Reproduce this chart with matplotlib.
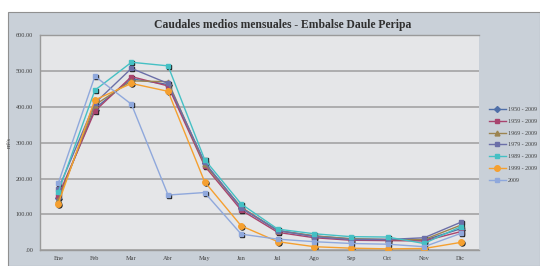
import matplotlib
matplotlib.use("Agg")
import matplotlib.pyplot as plt
from matplotlib.patches import Rectangle
from matplotlib.transforms import offset_copy

months = ["Ene", "Feb", "Mar", "Abr", "May", "Jun", "Jul", "Ago", "Sep", "Oct", "Nov", "Dic"]

s1950 = [145, 395, 478, 462, 243, 118, 55, 40, 32, 30, 28, 60]
s1959 = [152, 388, 484, 458, 235, 112, 50, 35, 28, 27, 26, 52]
s1969 = [140, 405, 472, 470, 240, 120, 55, 40, 32, 30, 30, 70]
s1979 = [170, 410, 507, 465, 245, 118, 55, 38, 30, 30, 35, 78]
s1989 = [162, 446, 524, 514, 253, 129, 59, 46, 38, 37, 19, 66]
s1999 = [130, 419, 465, 443, 191, 68, 24, 10, 6, 4, 5, 22]
s2009 = [187, 485, 407, 154, 161, 45, 31, 24, 19, 17, 10, 47]

labels = ["1950 - 2009", "1959 - 2009", "1969 - 2009", "1979 - 2009",
          "1989 - 2009", "1999 - 2009", "2009"]
series = [s1950, s1959, s1969, s1979, s1989, s1999, s2009]
colors = ["#4f6fa8", "#a8446e", "#9c8450", "#6b6fa8", "#45c0c4", "#f5a030", "#8fa8dc"]
markers = ["D", "s", "^", "s", "s", "o", "s"]
msizes = [3, 3.5, 3.5, 3.5, 3.5, 4, 3]

plt.rcParams['font.family'] = ['Liberation Serif', 'DejaVu Serif']

fig = plt.figure(figsize=(5.4, 2.66), dpi=100)
fig.patch.set_facecolor("white")
# outer chart area
bg = Rectangle((8/540, 0), 1 - 8/540, (266-12)/266,
               transform=fig.transFigure, facecolor="#c9d0d8",
               edgecolor="#909090", linewidth=0.8, zorder=-5)
fig.patches.append(bg)

ax = fig.add_axes([40/540, (266-250.3)/266, 439/540, (250.3-35)/266])
ax.set_zorder(1)
ax.set_facecolor("#e5e6e8")

x = list(range(len(months)))
shadow_tr = offset_copy(ax.transData, fig=fig, x=0.7, y=-0.7, units='points')
for s, lab, c, m, ms in zip(series, labels, colors, markers, msizes):
    ax.plot(x, s, linestyle="none", marker=m, markersize=ms * 0.9, color="#202020",
            transform=shadow_tr, zorder=2)
    ax.plot(x, s, color=c, marker=m, markersize=ms, linewidth=1.0,
            label=lab, zorder=3)

ax.set_xlim(-0.5, 11.5)
ax.set_ylim(0, 600)
ax.set_yticks(range(0, 601, 100))
ax.set_yticklabels([".00" if v == 0 else f"{v:.2f}" for v in range(0, 601, 100)])
ax.set_xticks(x)
ax.set_xticklabels(months)
ax.tick_params(axis='both', labelsize=4.5, colors="#404040", length=0, pad=4)
ax.tick_params(axis='y', pad=5)
ax.yaxis.grid(True, color="#a9a9a9", linewidth=1.3)
ax.set_axisbelow(True)
ax.spines["right"].set_visible(False)
for side in ["left", "bottom", "top"]:
    ax.spines[side].set_color("#9a9a9a")
    ax.spines[side].set_linewidth(1.0)

ax.set_ylabel("m³/s", fontsize=4.5, color="#404040", labelpad=3)

fig.text(283/540, 1 - 25/266, "Caudales medios mensuales - Embalse Daule Peripa",
         ha="center", va="center", fontsize=8.4, fontweight="bold", color="#303030")

leg = ax.legend(loc="upper left", bbox_to_anchor=(486/540, 1 - 104/266),
                bbox_transform=fig.transFigure, frameon=False, fontsize=4.3,
                handlelength=2.8, handletextpad=0.3, labelspacing=1.1,
                borderpad=0)
for t in leg.get_texts():
    t.set_color("#404040")

fig.savefig("out.png", dpi=100)
